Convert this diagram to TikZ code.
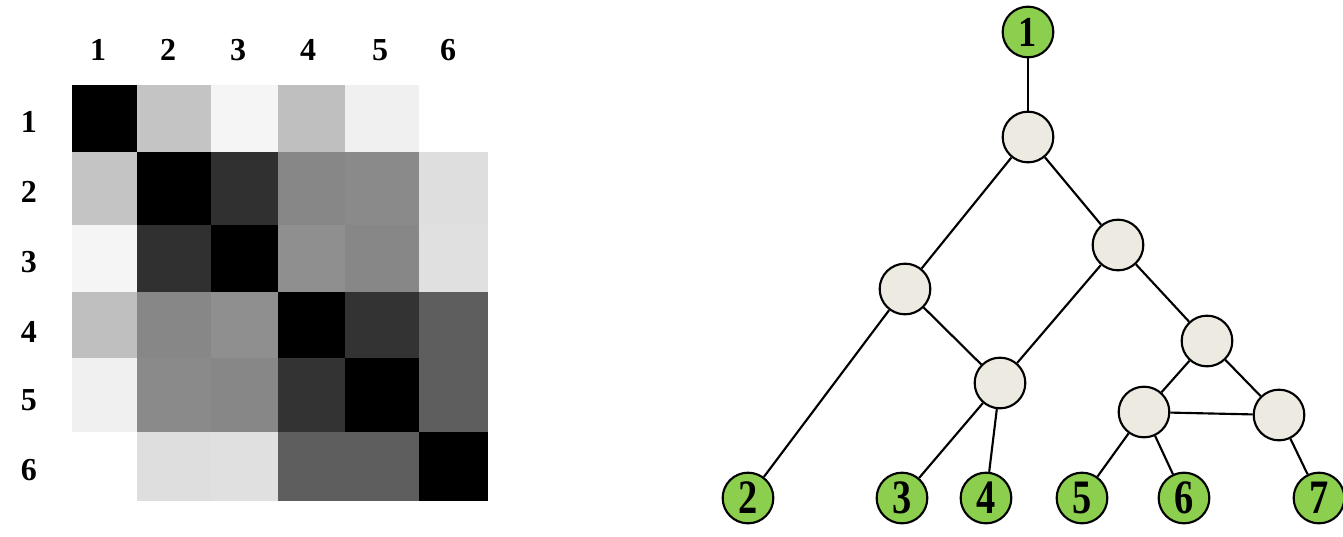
\documentclass[tikz,border=0pt]{standalone}
\usepackage{fontspec}
\usepackage{graphicx}
\setmainfont{Liberation Serif}
\definecolor{leafgreen}{HTML}{8CCF4E}
\definecolor{innerfill}{HTML}{EDEBE1}
\begin{document}
\begin{tikzpicture}[x=0.75pt,y=-0.75pt,
  lbl/.style={font=\fontsize{24}{24}\selectfont\bfseries, inner sep=0pt},
  leaf/.style={circle, draw, line width=1.6pt, fill=leafgreen, minimum size=38pt,
    inner sep=0pt, font=\fontsize{36}{36}\selectfont\bfseries},
  root/.style={leaf, font=\fontsize{32}{32}\selectfont\bfseries},
  inner/.style={circle, draw, line width=1.6pt, fill=innerfill, minimum size=38pt, inner sep=0pt},
  link/.style={line width=1.6pt}]
\useasboundingbox (0,0) rectangle (1343,536);

% similarity matrix: one grey level (percent black) per cell
\foreach \vals [count=\r] in {
  {100,23,4,25,6,0},
  {23,100,81,47,46,13},
  {4,81,100,44,47,12},
  {25,47,44,100,80,63},
  {6,46,47,80,100,63},
  {0,13,12,63,63,100}} {
  \foreach \v [count=\c] in \vals {
    \pgfmathsetmacro\xa{{72,137,211,278,345,419,487}[\c-1]}
    \pgfmathsetmacro\xb{{72,137,211,278,345,419,487}[\c]}
    \pgfmathsetmacro\ya{{85,152,225,292,358,432,500}[\r-1]}
    \pgfmathsetmacro\yb{{85,152,225,292,358,432,500}[\r]}
    \fill[black!\v, draw=black!\v, line width=0.3pt] (\xa,\ya) rectangle (\xb,\yb);
  }
}

% column and row indices
\foreach \i/\x in {1/98,2/168,3/238,4/308,5/380,6/448}
  \node[lbl] (col\i) at (\x,50) {\i};
\foreach \i/\y in {1/122,2/192,3/262,4/332,5/400,6/470}
  \node[lbl] (row\i) at (29,\y) {\i};

% tree
\node[root] (n1) at (1028,32) {\scalebox{0.85}[1]{1}};
\node[inner] (a) at (1028,137) {};
\node[inner] (b) at (1118,245) {};
\node[inner] (c) at (905,289) {};
\node[inner] (d) at (1207,341) {};
\node[inner] (e) at (1000,383) {};
\node[inner] (f) at (1144,412) {};
\node[inner] (g) at (1279,415) {};
\node[leaf] (n2) at (748,498) {\scalebox{0.8}[1]{2}};
\node[leaf] (n3) at (902,498) {\scalebox{0.8}[1]{3}};
\node[leaf] (n4) at (986,498) {\scalebox{0.8}[1]{4}};
\node[leaf] (n5) at (1082,498) {\scalebox{0.8}[1]{5}};
\node[leaf] (n6) at (1184,498) {\scalebox{0.8}[1]{6}};
\node[leaf] (n7) at (1319,498) {\scalebox{0.8}[1]{7}};

\draw[link] (n1) -- (a);
\draw[link] (a) -- (c);
\draw[link] (a) -- (b);
\draw[link] (c) -- (n2);
\draw[link] (c) -- (e);
\draw[link] (b) -- (e);
\draw[link] (b) -- (d);
\draw[link] (e) -- (n3);
\draw[link] (e) -- (n4);
\draw[link] (d) -- (f);
\draw[link] (d) -- (g);
\draw[link] (f) -- (g);
\draw[link] (f) -- (n5);
\draw[link] (f) -- (n6);
\draw[link] (g) -- (n7);
\end{tikzpicture}
\end{document}
